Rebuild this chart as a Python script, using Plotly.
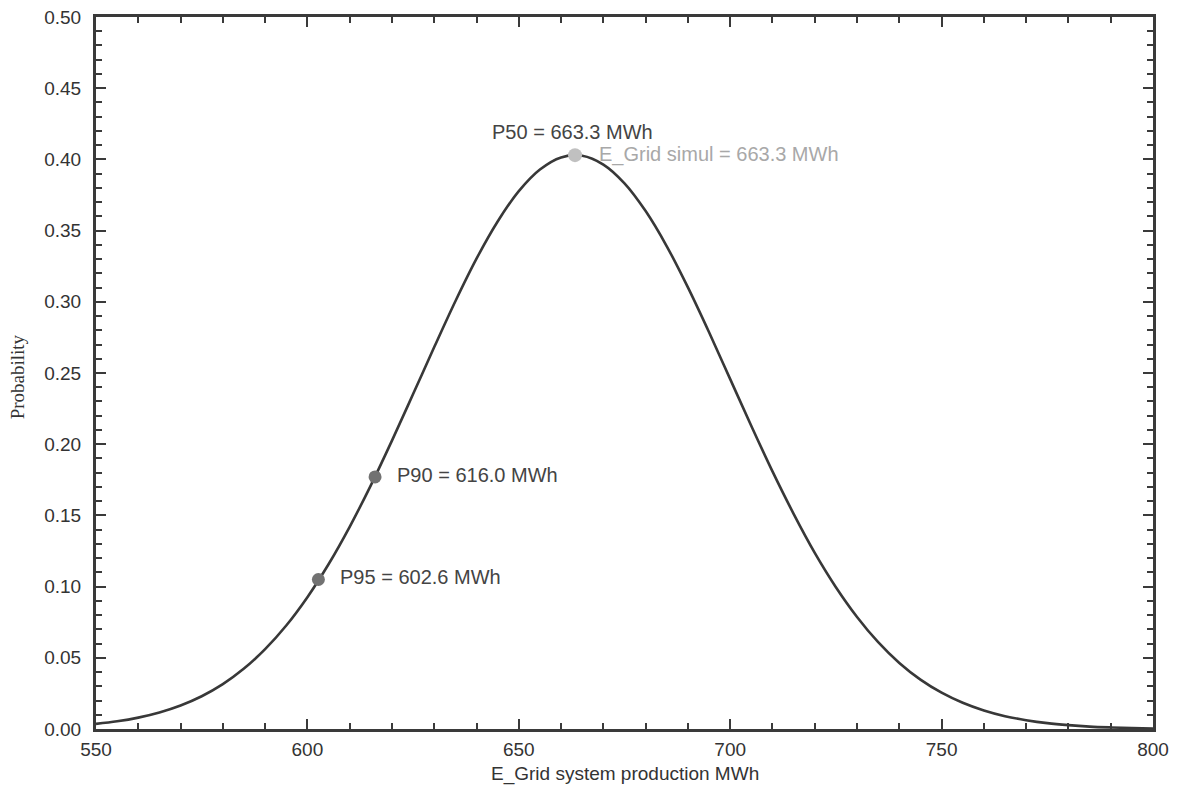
import plotly.graph_objects as go

# Production (MWh) and probability
production = [550, 555, 560, 565, 570, 575, 580, 585, 590, 595, 600, 605, 610, 615,
              620, 625, 630, 635, 640, 645, 650, 655, 660, 665, 670, 675, 680,
              685, 690, 695, 700, 705, 710, 715, 720, 725, 730, 735, 740, 745, 750,
              755, 760, 765, 770, 775, 780, 785, 790, 795, 800]
probability = [0.0036, 0.0054, 0.0080, 0.0116, 0.0165, 0.0230, 0.0315, 0.0424, 0.0561,
               0.0727, 0.0926, 0.1157, 0.1420, 0.1711, 0.2025, 0.2352, 0.2682, 0.3004,
               0.3303, 0.3564, 0.3777, 0.3929, 0.4014, 0.4026, 0.3964, 0.3832,
               0.3637, 0.3390, 0.3101, 0.2786, 0.2457, 0.2128, 0.1809, 0.1511, 0.1237,
               0.0996, 0.0787, 0.0610, 0.0464, 0.0347, 0.0255, 0.0184, 0.0130, 0.0090,
               0.0062, 0.0041, 0.0027, 0.0017, 0.0011, 0.0007, 0.0004]

# Marked points
point_names = ["P95", "P90", "P50"]
point_x = [602.6, 616.0, 663.3]
point_y = [0.105, 0.177, 0.403]
point_labels = ["P95 = 602.6 MWh", "P90 = 616.0 MWh", "P50 = 663.3 MWh"]
simul_label = "E_Grid simul = 663.3 MWh"

x_ticks = [550, 600, 650, 700, 750, 800]
y_ticks = [0.00, 0.05, 0.10, 0.15, 0.20, 0.25, 0.30, 0.35, 0.40, 0.45, 0.50]

axis_color = "#3a3a3a"
font_family = "Liberation Sans, Arial, sans-serif"

fig = go.Figure()
fig.add_trace(go.Scatter(
    x=production, y=probability, mode="lines",
    line=dict(color="#383838", width=2.6, shape="spline", smoothing=1.0),
    hoverinfo="skip", showlegend=False))

fig.add_trace(go.Scatter(
    x=point_x[:2], y=point_y[:2], mode="markers",
    marker=dict(color="#727272", size=13, line=dict(width=0)),
    showlegend=False))
fig.add_trace(go.Scatter(
    x=point_x[2:], y=point_y[2:], mode="markers",
    marker=dict(color="#c0c0c0", size=14, line=dict(width=0)),
    showlegend=False))

# Labels for P95 and P90 (to the right of the markers)
for i in range(2):
    fig.add_annotation(x=point_x[i], y=point_y[i], text=point_labels[i],
                       showarrow=False, xanchor="left", yanchor="middle",
                       xshift=20, yshift=2,
                       font=dict(family=font_family, size=20, color="#444444"))
# P50 label above-left
fig.add_annotation(x=point_x[2], y=point_y[2], text=point_labels[2],
                   showarrow=False, xanchor="right", yanchor="middle",
                   xshift=80, yshift=23,
                   font=dict(family=font_family, size=20, color="#444444"))
fig.add_annotation(x=point_x[2], y=point_y[2], text=simul_label,
                   showarrow=False, xanchor="left", yanchor="middle",
                   xshift=22, yshift=1,
                   font=dict(family=font_family, size=20, color="#a8a8a8"))

# Axis titles as paper annotations
fig.add_annotation(xref="paper", yref="paper", x=0.5, y=-0.063,
                   text="E_Grid system production MWh", showarrow=False,
                   xanchor="center", yanchor="middle",
                   font=dict(family=font_family, size=19, color="#333333"))
fig.add_annotation(xref="paper", yref="paper", x=-0.074, y=0.495,
                   text="Probability", showarrow=False, textangle=-90,
                   xanchor="center", yanchor="middle",
                   font=dict(family="Liberation Serif, Times New Roman, serif",
                             size=19, color="#333333"))

common_axis = dict(
    showline=True, linecolor=axis_color, linewidth=3, mirror="ticks",
    ticks="inside", tickcolor=axis_color, tickwidth=1.5, ticklen=10,
    showgrid=False, zeroline=False, automargin=False,
    ticklabeloverflow="allow",
    tickfont=dict(family=font_family, size=19, color="#333333"),
)

fig.update_xaxes(
    range=[550, 800], tickvals=x_ticks, ticktext=[str(v) for v in x_ticks],
    ticklabelstandoff=1,
    minor=dict(dtick=10, tick0=550, ticks="inside", ticklen=6, tickwidth=1.5,
               tickcolor=axis_color, showgrid=False),
    **common_axis)
fig.update_yaxes(
    range=[0, 0.5], tickvals=y_ticks, tickformat=".2f",
    ticklabelstandoff=8,
    minor=dict(dtick=0.01, tick0=0, ticks="inside", ticklen=6, tickwidth=1.5,
               tickcolor=axis_color, showgrid=False),
    **common_axis)

fig.update_layout(
    width=1178, height=789,
    margin=dict(l=88, r=33, t=9, b=68),
    paper_bgcolor="white", plot_bgcolor="white",
    showlegend=False,
)

fig.write_html("out.html")
